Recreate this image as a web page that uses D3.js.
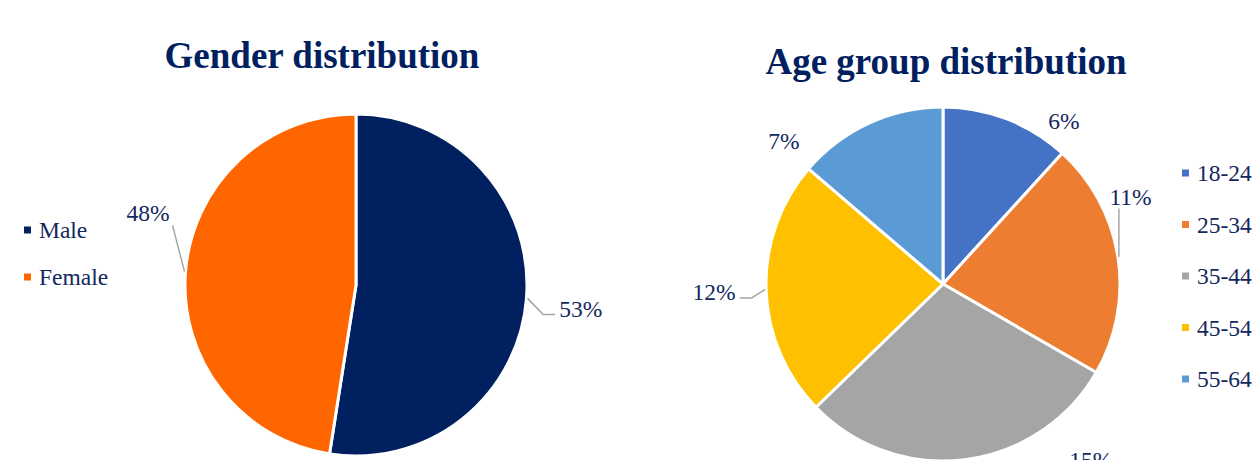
<!DOCTYPE html>
<html lang="en">
  <head>
    <meta charset="utf-8">
    <title>Gender and age group distribution</title>
    <script src="https://cdn.jsdelivr.net/npm/d3@7"></script>
    <style>
      body { margin: 0; background: #fff; }
    </style>
  </head>
  <body>
    <div id="chart"></div>
    <script>
      // data
      const genderLabels = ["Male", "Female"];
      const genderValues = [53, 48];
      const genderColors = ["#012060", "#FF6600"];

      const ageLabels = ["18-24", "25-34", "35-44", "45-54", "55-64"];
      const ageValues = [6, 11, 15, 12, 7];
      const ageColors = ["#4472C4", "#ED7D31", "#A5A5A5", "#FFC000", "#5B9BD5"];

      // where Excel's "best fit" put each data label (angle in degrees, distance from centre)
      const genderLabelLayout = [
        {angle: 96, dist: 226, leader: "elbow"},
        {angle: 289, dist: 220, leader: "direct"}
      ];
      const ageLabelLayout = [
        {angle: 36.6, dist: 203, leader: "none"},
        {angle: 65, dist: 207, leader: "direct"},
        {angle: 140, dist: 230, leader: "none"},
        {angle: 268, dist: 229, leader: "elbow"},
        {angle: 312, dist: 214, leader: "none"}
      ];

      const W = 1257, H = 460;
      const font = "'Liberation Serif', 'Times New Roman', Times, serif";
      const textColor = "#14285E", titleColor = "#002060", leaderColor = "#A6A6A6";
      const labelSize = 23.5;

      const svg = d3.select("#chart").append("svg")
          .attr("width", W)
          .attr("height", H)
          .style("font-family", font);

      function drawPie(opts) {
        const g = svg.append("g")
            .attr("transform", `translate(${opts.cx}, ${opts.cy})`);

        const pie = d3.pie().sort(null).value(d => d.value);
        const data = opts.labels.map((l, i) => ({label: l, value: opts.values[i], color: opts.colors[i]}));
        const arcs = pie(data);
        const arc = d3.arc().innerRadius(0).outerRadius(opts.r);

        g.selectAll("path.slice")
            .data(arcs)
            .enter().append("path")
            .attr("class", "slice")
            .attr("d", arc)
            .attr("fill", d => d.data.color)
            .attr("stroke", "#fff")
            .attr("stroke-width", 3)
            .attr("stroke-linejoin", "round");

        // data labels
        const rad = a => a * Math.PI / 180;
        arcs.forEach((d, i) => {
          const lay = opts.layout[i];
          const lx = Math.sin(rad(lay.angle)) * lay.dist,
                ly = -Math.cos(rad(lay.angle)) * lay.dist;
          const t = g.append("text")
              .attr("x", lx)
              .attr("y", ly)
              .attr("text-anchor", "middle")
              .attr("dominant-baseline", "central")
              .attr("font-family", font)
              .attr("fill", textColor)
              .attr("font-size", labelSize)
              .text(d.value + "%");

          if (lay.leader === "none") return;
          const bb = t.node().getBBox();
          const mid = (d.startAngle + d.endAngle) / 2;
          const ex = Math.sin(mid) * (opts.r + 1),
                ey = -Math.cos(mid) * (opts.r + 1);
          let pts;
          if (lay.leader === "elbow") {
            const right = lx > 0;
            const endX = right ? bb.x - 4 : bb.x + bb.width + 4;
            const endY = ly + 6;
            const elbowX = right ? endX - 12 : endX + 12;
            pts = [[ex, ey], [elbowX, endY], [endX, endY]];
          } else {
            // nearest point of the label box (a bit padded) to the slice edge
            const top = ly - 12, bottom = ly + 12;
            const nx = Math.max(bb.x - 3, Math.min(ex, bb.x + bb.width + 3));
            const ny = Math.max(top, Math.min(ey, bottom));
            pts = [[ex, ey], [nx, ny]];
          }
          g.append("path")
              .attr("d", d3.line()(pts))
              .attr("fill", "none")
              .attr("stroke", leaderColor)
              .attr("stroke-width", 1.5);
        });

        // title
        svg.append("text")
            .attr("x", opts.titleX)
            .attr("y", opts.titleY)
            .attr("text-anchor", "middle")
            .attr("font-family", font)
            .attr("font-size", 37)
            .attr("font-weight", "bold")
            .attr("fill", titleColor)
            .text(opts.title);

        // legend
        const ly = d3.scalePoint()
            .domain(opts.labels)
            .range(opts.legendRange);
        const leg = svg.append("g").selectAll("g")
            .data(data)
            .enter().append("g")
            .attr("transform", d => `translate(${opts.legendX}, ${ly(d.label)})`);
        leg.append("rect")
            .attr("x", 0)
            .attr("y", -3.5)
            .attr("width", 7)
            .attr("height", 7)
            .attr("fill", d => d.color);
        leg.append("text")
            .attr("x", 15)
            .attr("y", 0)
            .attr("dominant-baseline", "central")
            .attr("font-family", font)
            .attr("font-size", labelSize)
            .attr("fill", textColor)
            .text(d => d.label);
      }

      drawPie({
        cx: 356, cy: 285, r: 171,
        labels: genderLabels, values: genderValues, colors: genderColors,
        layout: genderLabelLayout,
        title: "Gender distribution", titleX: 322, titleY: 68,
        legendX: 24, legendRange: [230, 277]
      });

      drawPie({
        cx: 943, cy: 284, r: 177,
        labels: ageLabels, values: ageValues, colors: ageColors,
        layout: ageLabelLayout,
        title: "Age group distribution", titleX: 946, titleY: 74,
        legendX: 1182, legendRange: [173, 379]
      });
    </script>
  </body>
</html>
